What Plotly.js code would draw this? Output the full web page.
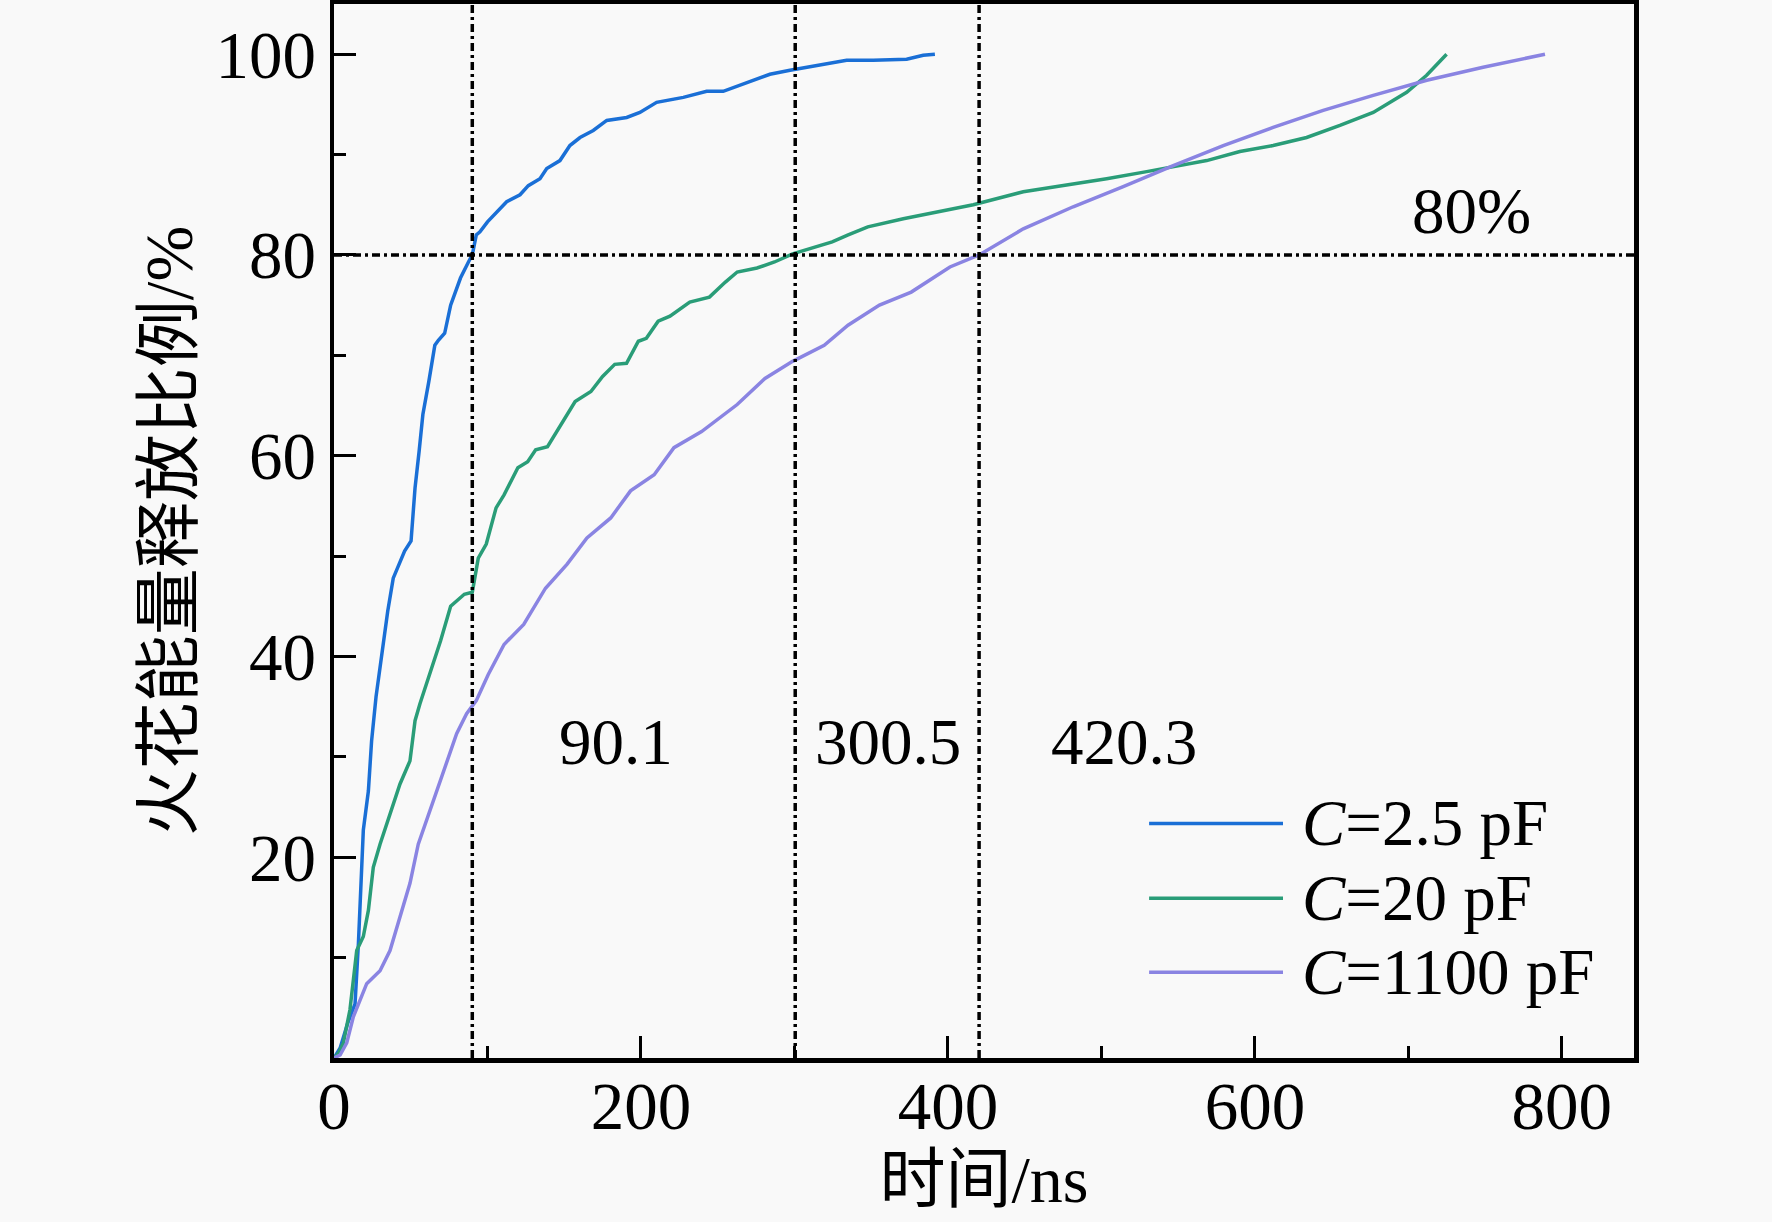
<!DOCTYPE html>
<html>
<head>
<meta charset="utf-8">
<script src="https://cdn.plot.ly/plotly-3.0.1.min.js"></script>
<style>
  html, body { margin: 0; padding: 0; background: #f9f9f9; }
  #plot { width: 1772px; height: 1222px; }
</style>
</head>
<body>
<div id="plot"></div>
<script>
// C=2.5 pF
var t1 = [0, 4, 9, 13.7, 15.9, 16.9, 19.1, 22.4, 24.5, 27.4, 30.9, 35, 38.6, 42.5, 46, 50.2, 52.8, 55.5, 57.9, 61.8, 65.7, 68, 72.1, 76, 82.4, 87.6, 90.1, 92.7, 95.1, 100, 104.9, 112.5, 121.2, 126.6, 134.2, 138.6, 147.2, 153.7, 160.3, 168.9, 177.7, 190.7, 199.3, 210.2, 227.6, 242.8, 253.6, 264.5, 273.2, 284, 297.1, 314.5, 325.3, 334, 351.4, 373.1, 383.9, 391.5];
var e1 = [0, 1, 3.5, 5.4, 11.4, 14.7, 22.7, 26.6, 31.6, 36, 39.9, 44.5, 47.8, 49.2, 50.5, 51.5, 56.8, 60.5, 64.1, 67.4, 71.0, 71.5, 72.2, 75.0, 77.7, 79.3, 80, 82.0, 82.3, 83.3, 84.1, 85.3, 86.0, 86.9, 87.6, 88.6, 89.4, 90.9, 91.7, 92.4, 93.4, 93.7, 94.2, 95.2, 95.7, 96.3, 96.3, 96.9, 97.4, 98.0, 98.4, 98.9, 99.2, 99.4, 99.4, 99.5, 99.9, 100.0];

// C=20 pF
var t2 = [0, 3, 6.1, 10.4, 14.8, 19.1, 22.4, 25.6, 30, 36.5, 43, 49.5, 52.8, 56, 63.1, 69.5, 76, 84.9, 90.1, 94, 99.2, 105.6, 110.8, 119.8, 126.2, 131.4, 139.1, 148, 157.1, 167.4, 175, 182.9, 190.6, 198.3, 203.5, 211.2, 218.9, 231.8, 244.6, 255, 262.7, 275.6, 287, 298.8, 310, 324.6, 335, 347.8, 370.9, 394.8, 416.5, 449.1, 475.2, 503.4, 529.5, 546.8, 568.6, 590.2, 611.9, 633.7, 655.4, 677.1, 698.9, 711.9, 724.9];
var e2 = [0, 0.5, 1.5, 4.8, 10.7, 12.1, 14.7, 19.0, 21.3, 24.3, 27.3, 29.6, 33.6, 35.3, 38.6, 41.6, 45.0, 46.2, 46.4, 49.8, 51.2, 54.8, 56.1, 58.8, 59.4, 60.6, 60.9, 63.2, 65.4, 66.4, 67.9, 69.1, 69.2, 71.4, 71.7, 73.4, 73.9, 75.3, 75.8, 77.3, 78.3, 78.7, 79.3, 80.1, 80.6, 81.3, 82.0, 82.8, 83.6, 84.3, 85.0, 86.3, 86.9, 87.6, 88.3, 88.8, 89.4, 90.3, 90.9, 91.7, 92.9, 94.2, 96.2, 97.9, 100.0];

// C=1100 pF
var t3 = [0, 4, 8.3, 12.6, 21.3, 30, 36.5, 43, 49.5, 54.9, 60.4, 66.9, 73.4, 79.9, 86.4, 92.7, 100.5, 110.8, 123.6, 137.8, 151.9, 164.8, 180.3, 193.2, 208.6, 221.5, 239.5, 262.7, 280.8, 298.8, 319.4, 334.9, 355.4, 376.1, 401.3, 420.3, 449.1, 481.6, 514.2, 546.8, 579.4, 611.9, 644.5, 677.1, 712, 748.7, 789];
var e3 = [0, 0.3, 1.5, 4.1, 7.4, 8.7, 10.7, 14.0, 17.4, 21.3, 23.7, 26.6, 29.3, 32.3, 34.3, 35.6, 38.2, 41.2, 43.2, 46.8, 49.2, 51.8, 53.8, 56.5, 58.1, 60.8, 62.4, 65.1, 67.7, 69.4, 71.0, 73.0, 75.0, 76.3, 78.8, 80.0, 82.6, 84.8, 86.8, 88.9, 90.9, 92.7, 94.4, 95.9, 97.4, 98.7, 100.0];

var names = ['<i>C</i>=2.5 pF', '<i>C</i>=20 pF', '<i>C</i>=1100 pF'];
var colors = ['#1a6fd6', '#2a9d78', '#8a84e2'];

// moments when 80% of the energy is released
var crossTimes = [90.1, 300.5, 420.3];
var threshold = 80;
// where the time labels sit (ns, %)
var labelX = [183.7, 361, 515];
var labelY = 31.5;

var xTicks = [0, 200, 400, 600, 800];
var xMinor = [100, 300, 500, 700];
var yTicks = [20, 40, 60, 80, 100];
var yMinor = [10, 30, 50, 70, 90];

var fontFam = '"Liberation Serif", "Times New Roman", "Noto Sans CJK SC", serif';

var series = [[t1, e1], [t2, e2], [t3, e3]];
var data = series.map(function (s, i) {
  return {
    x: s[0],
    y: s[1],
    name: names[i],
    type: 'scatter',
    mode: 'lines',
    line: { color: colors[i], width: 3.5 },
    showlegend: false
  };
});

var dashDot = '8px,4px,3px,4px';
var shapes = crossTimes.map(function (c) {
  return {
    type: 'line', xref: 'x', yref: 'paper',
    x0: c, x1: c, y0: 0, y1: 1,
    line: { color: '#000', width: 3.5, dash: dashDot }
  };
});
shapes.push({
  type: 'line', xref: 'paper', yref: 'y',
  x0: 0, x1: 1, y0: threshold, y1: threshold,
  line: { color: '#000', width: 3.5, dash: dashDot }
});

var annotations = crossTimes.map(function (c, i) {
  return {
    x: labelX[i], y: labelY, xref: 'x', yref: 'y',
    text: c.toFixed(1), showarrow: false,
    font: { family: fontFam, size: 65, color: '#000' }
  };
});
annotations.push({
  x: 740.8, y: 84.4, xref: 'x', yref: 'y',
  text: threshold + '%', showarrow: false,
  font: { family: fontFam, size: 65, color: '#000' }
});

// hand made legend, long line samples like the original
var legY = [0.2225, 0.1515, 0.0814];
names.forEach(function (n, i) {
  shapes.push({
    type: 'line', xref: 'paper', yref: 'paper',
    x0: 0.627, x1: 0.730, y0: legY[i], y1: legY[i],
    line: { color: colors[i], width: 3.5 }
  });
  annotations.push({
    x: 0.743, y: legY[i], xref: 'paper', yref: 'paper',
    xanchor: 'left', yanchor: 'middle',
    text: n, showarrow: false,
    font: { family: fontFam, size: 65, color: '#000' }
  });
});

var layout = {
  width: 1772,
  height: 1222,
  margin: { l: 334, r: 138, t: 4, b: 164 },
  paper_bgcolor: '#f9f9f9',
  plot_bgcolor: '#f9f9f9',
  font: { family: fontFam, size: 66, color: '#000' },
  xaxis: {
    range: [0, 847],
    tickvals: xTicks,
    ticks: 'inside', ticklen: 22, tickwidth: 3, tickcolor: '#000',
    minor: { tickvals: xMinor, ticks: 'inside', ticklen: 12, tickwidth: 3, tickcolor: '#000' },
    showline: true, linewidth: 4.5, linecolor: '#000', mirror: true,
    showgrid: false, zeroline: false,
    tickfont: { family: fontFam, size: 67 },
    ticklabelstandoff: -14,
    title: { text: '时间/ns', font: { family: fontFam, size: 66 }, standoff: 8 }
  },
  yaxis: {
    range: [0, 105],
    tickvals: yTicks,
    ticks: 'inside', ticklen: 22, tickwidth: 3, tickcolor: '#000',
    minor: { tickvals: yMinor, ticks: 'inside', ticklen: 12, tickwidth: 3, tickcolor: '#000' },
    showline: true, linewidth: 4.5, linecolor: '#000', mirror: true,
    showgrid: false, zeroline: false,
    tickfont: { family: fontFam, size: 67 },
    title: { text: '火花能量释放比例/%', font: { family: fontFam, size: 67 }, standoff: 2 }
  },
  shapes: shapes,
  annotations: annotations,
  showlegend: false
};

Plotly.newPlot('plot', data, layout, { displayModeBar: false, staticPlot: true });
</script>
</body>
</html>
